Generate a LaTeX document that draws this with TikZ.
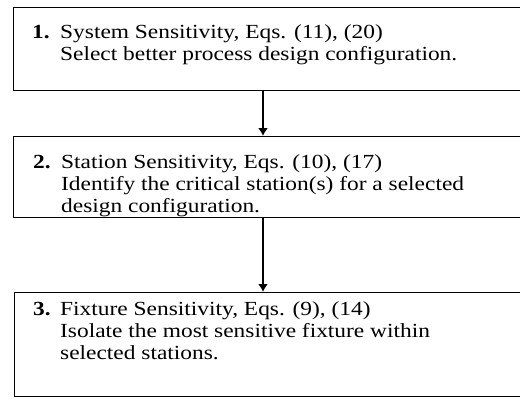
\documentclass[tikz,border=0pt]{standalone}
\usepackage{fontspec}
\setmainfont[FakeStretch=1.17]{Liberation Serif}
\usetikzlibrary{arrows.meta}
\begin{document}
\begin{tikzpicture}[x=1pt,y=-1pt,
  boxstyle/.style={draw=black,line width=1.3pt,rectangle,inner sep=0pt,anchor=north west},
  txt/.style={anchor=base west,inner sep=0pt,font=\fontsize{20}{22.3}\selectfont},
  conn/.style={line width=1.6pt,-{Latex[length=8pt,width=10pt]}}]
\useasboundingbox (0,0) rectangle (520,400);
\node[boxstyle,minimum width=517pt,minimum height=83pt] (b1) at (13,7) {};
\node[boxstyle,minimum width=517pt,minimum height=81pt] (b2) at (13,136) {};
\node[boxstyle,minimum width=517pt,minimum height=104pt] (b3) at (14,292) {};
\node[txt] (t1) at (32,38) {\begin{tabular}[t]{@{}p{28pt}@{}l@{}}\textbf{1.} & System Sensitivity, Eqs. (11), (20)\\ & Select better process design configuration.\end{tabular}};
\node[txt] (t2) at (33,168) {\begin{tabular}[t]{@{}p{28pt}@{}l@{}}\textbf{2.} & Station Sensitivity, Eqs. (10), (17)\\ & Identify the critical station(s) for a selected\\ & design configuration.\end{tabular}};
\node[txt] (t3) at (33,315) {\begin{tabular}[t]{@{}p{27pt}@{}l@{}}\textbf{3.} & Fixture Sensitivity, Eqs. (9), (14)\\ & Isolate the most sensitive fixture within\\ & selected stations.\end{tabular}};
\coordinate (ax) at (263,0);
\draw[conn] (b1.south -| ax) -- (b2.north -| ax);
\draw[conn] (b2.south -| ax) -- (b3.north -| ax);
\end{tikzpicture}
\end{document}
